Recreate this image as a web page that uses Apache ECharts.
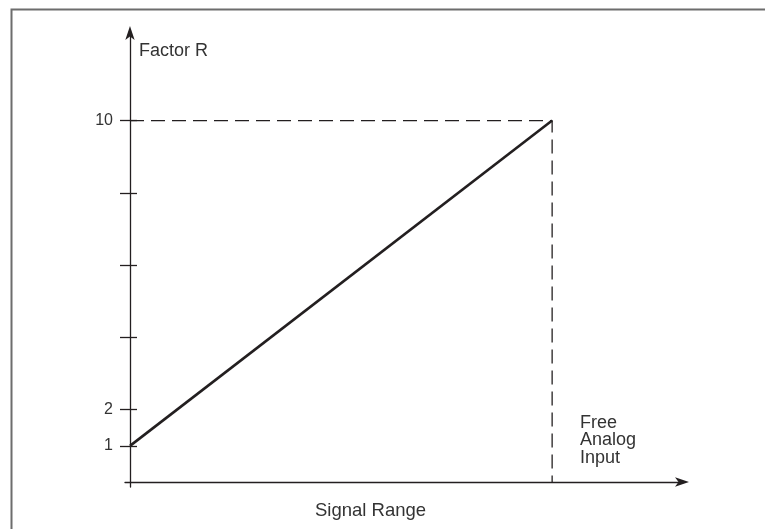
<!DOCTYPE html>
<html>
<head>
<meta charset="utf-8">
<script src="https://cdn.jsdelivr.net/npm/echarts@6/dist/echarts.min.js"></script>
<style>
html,body{margin:0;padding:0;background:#fff;}
#chart{width:765px;height:529px;}
</style>
</head>
<body>
<div id="chart"></div>
<script>
// Data
var signalRange = [0, 1];
var factorR = [1, 10];
var yTickValues = [1, 2, 4, 6, 8, 10];
var yLabelValues = [1, 2, 10];
var yAxisTitle = 'Factor R';
var xAxisTitle = 'Signal Range';
var endLabel = 'Free\nAnalog\nInput';

var lineData = signalRange.map(function (x, i) { return [x, factorR[i]]; });
var xEnd = signalRange[signalRange.length - 1];
var yEnd = factorR[factorR.length - 1];
var guideData = [[0, yEnd], [xEnd, yEnd], [xEnd, 0]];

var ink = '#231f20';
var txt = '#333';
var fontFam = '"Liberation Sans", Arial, sans-serif';
var yMin = -0.1385, yMax = 12.45;
var chart = echarts.init(document.getElementById('chart'));
chart.setOption({
  backgroundColor: '#fff',
  animation: false,
  grid: { left: 125, right: 82, top: 32, bottom: 42, containLabel: false },
  xAxis: {
    type: 'value', min: -0.0118, max: 1.31,
    splitLine: { show: false },
    axisTick: { show: false },
    axisLabel: { show: false },
    axisLine: { show: true, onZero: true, symbol: ['none', 'arrow'], symbolSize: [7, 14], symbolOffset: [0, 6],
      lineStyle: { color: ink, width: 1.3 } }
  },
  yAxis: [{
    type: 'value', min: yMin, max: yMax, position: 'left',
    splitLine: { show: false },
    axisLine: { show: true, onZero: true, symbol: ['none', 'arrow'], symbolSize: [7, 14], symbolOffset: [0, 6],
      lineStyle: { color: ink, width: 1.3 } },
    axisTick: { show: false },
    axisLabel: { show: true, customValues: yLabelValues, margin: 12, color: txt,
      fontFamily: fontFam, fontSize: 16 }
  }, {
    type: 'value', min: yMin, max: yMax, position: 'left', offset: -12,
    splitLine: { show: false },
    axisLine: { show: false, onZero: false },
    axisTick: { show: true, length: 17, customValues: yTickValues, lineStyle: { color: ink, width: 1.3 } },
    axisLabel: { show: false }
  }],
  series: [{
    type: 'line', data: guideData, symbol: 'none', silent: true, yAxisIndex: 1,
    lineStyle: { color: ink, width: 1.3, type: [14, 7] }
  }, {
    type: 'line', data: lineData, symbol: 'none', silent: true,
    lineStyle: { color: ink, width: 2.6 }
  }],
  graphic: [
    { type: 'rect', left: 9, top: 7, shape: { width: 800, height: 600 },
      style: { fill: 'none', stroke: '#6d6d6d', lineWidth: 2 }, silent: true },
    { type: 'text', left: 139, top: 42,
      style: { text: yAxisTitle, fill: txt, font: '18px ' + fontFam } },
    { type: 'text', left: 315, top: 501,
      style: { text: xAxisTitle, fill: txt, font: '18.5px ' + fontFam } },
    { type: 'text', left: 580, top: 414,
      style: { text: endLabel, fill: txt, lineHeight: 17.5, font: '18px ' + fontFam } }
  ]
});
</script>
</body>
</html>
